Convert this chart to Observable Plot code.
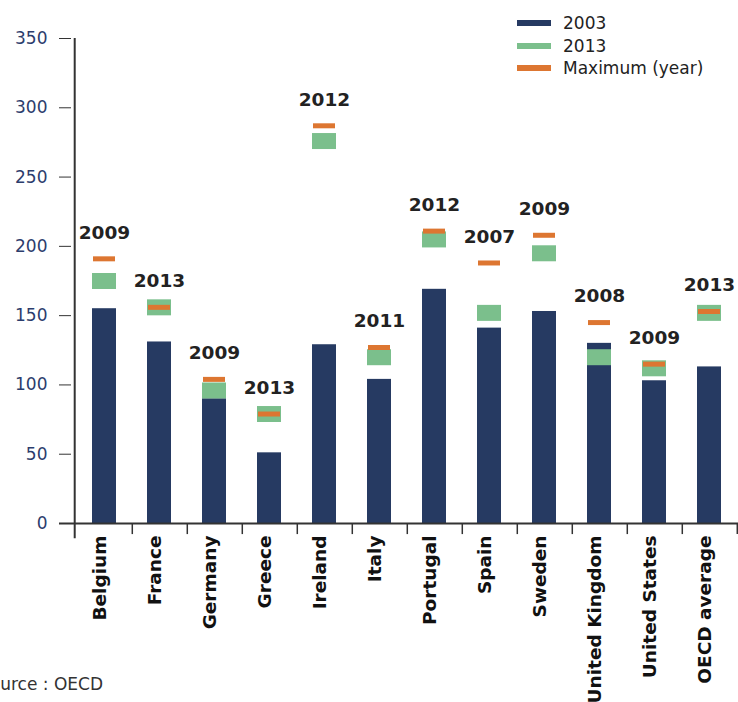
<!DOCTYPE html>
<html>
<head>
<meta charset="utf-8">
<script src="https://cdn.jsdelivr.net/npm/d3@7"></script>
<script src="https://cdn.jsdelivr.net/npm/@observablehq/plot@0.6"></script>
<style>
  html, body { margin: 0; padding: 0; background: #fff; overflow: hidden; }
  #wrap { position: relative; width: 738px; height: 702px; }
  .leg { position: absolute; left: 517px; font-family: "DejaVu Sans", sans-serif; font-size: 17px; color: #222; }
  .leg .row { position: absolute; left: 0; height: 22px; white-space: nowrap; }
  .leg .sw { position: absolute; left: 0; top: 8px; width: 34px; height: 6px; }
  .leg .lb { position: absolute; left: 46px; top: 0; line-height: 22px; }
  #source { position: absolute; left: -21px; top: 674px; font-family: "DejaVu Sans", sans-serif; font-size: 17px; color: #333; white-space: nowrap; }
</style>
</head>
<body>
<div id="wrap">
  <div id="chart"></div>
  <div class="leg" id="legend"></div>
  <div id="source">Source : OECD</div>
</div>
<script>
const countries = ["Belgium","France","Germany","Greece","Ireland","Italy","Portugal","Spain","Sweden","United Kingdom","United States","OECD average"];
const v2003 = [155,131,90,51,129,104,169,141,153,130,103,113];
const v2013 = [175,156,96,79,276,120,205,152,195,120,112,152];
const vMax  = [191,156,104,79,287,127,211,188,208,145,115,153];
const maxYear = ["2009","2013","2009","2013","2012","2011","2012","2007","2009","2008","2009","2013"];
const yTicks = [0,50,100,150,200,250,300,350];
const legendLabels = ["2003","2013","Maximum (year)"];

const navy = "#263a62", green = "#7bbf8c", orange = "#dd7631";

const data = countries.map((c, i) => ({country: c, v2003: v2003[i], v2013: v2013[i], vMax: vMax[i], year: maxYear[i]}));

const W = 738, ML = 73, MR = -2;
const step = (W - ML - MR) / countries.length;

const chart = Plot.plot({
  width: W,
  height: 702,
  marginTop: 38,
  marginBottom: 179,
  marginLeft: ML,
  marginRight: MR,
  style: {fontFamily: "DejaVu Sans, sans-serif", background: "transparent", overflow: "visible"},
  x: {type: "band", domain: countries, paddingInner: 0.57, paddingOuter: 0.285, label: null},
  y: {domain: [0, 350], label: null},
  marks: [
    Plot.barY(data, {x: "country", y: "v2003", fill: navy}),
    Plot.tickY(data, {x: "country", y: "v2013", stroke: green, strokeWidth: 16}),
    Plot.tickY(data, {x: "country", y: "vMax", stroke: orange, strokeWidth: 5, inset: 1}),
    Plot.text(data, {x: "country", y: "vMax", text: "year", dy: -26, fontSize: 18.5, fontWeight: "bold", fill: "#222"}),
    Plot.ruleY([0], {stroke: "#333", strokeWidth: 2, insetLeft: -14}),
    Plot.ruleX([countries[0]], {x: d => d, y1: -11, y2: 350, dx: -(step / 2) - 2, stroke: "#333", strokeWidth: 2}),
    Plot.ruleX(countries, {x: d => d, y1: 0, y2: -8, dx: step / 2, stroke: "#333", strokeWidth: 1.5}),
    Plot.axisY({ticks: yTicks, tickSize: 12, tickPadding: 12, dx: -2, fontSize: 17, stroke: "#333", fill: "#2c3d6d", label: null}),
    Plot.axisX({tickSize: 0, tickRotate: -90, tickPadding: 12, dx: -4, fontSize: 18.5, fontWeight: "bold", fill: "#111", label: null})
  ]
});
document.getElementById("chart").appendChild(chart);

const legColors = [navy, green, orange];
const legTops = [12, 34.5, 57];
const leg = document.getElementById("legend");
leg.style.top = "0px";
legendLabels.forEach((t, i) => {
  const row = document.createElement("div");
  row.className = "row";
  row.style.top = legTops[i] + "px";
  const sw = document.createElement("div");
  sw.className = "sw";
  sw.style.background = legColors[i];
  const lb = document.createElement("div");
  lb.className = "lb";
  lb.textContent = t;
  row.appendChild(sw);
  row.appendChild(lb);
  leg.appendChild(row);
});
</script>
</body>
</html>
